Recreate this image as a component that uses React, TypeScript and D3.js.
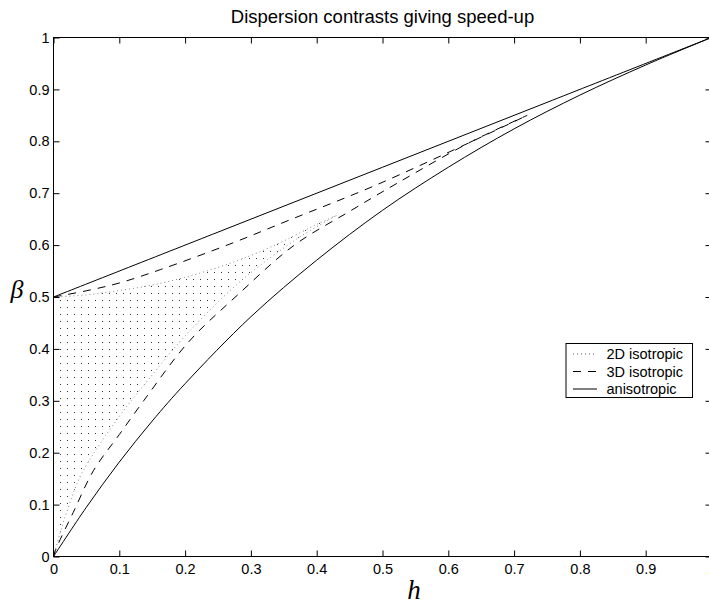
import { useEffect, useRef } from 'react';
import * as d3 from 'd3';

// tick values
const hTicks = [0, 0.1, 0.2, 0.3, 0.4, 0.5, 0.6, 0.7, 0.8, 0.9, 1];
const betaTicks = [0, 0.1, 0.2, 0.3, 0.4, 0.5, 0.6, 0.7, 0.8, 0.9, 1];

// anisotropic bounds (solid)
const anisoUpperH = [0, 0.25, 0.5, 0.75, 1];
const anisoUpperB = [0.5, 0.625, 0.75, 0.875, 1];
const anisoLowerH = [0, 0.05, 0.1, 0.15, 0.2, 0.3, 0.4, 0.5, 0.6, 0.7, 0.8, 0.9, 1];
const anisoLowerB = [0, 0.095, 0.182, 0.261, 0.333, 0.462, 0.571, 0.667, 0.75, 0.824, 0.889, 0.947, 1];

// 3D isotropic bounds (dashed)
const iso3DUpperH = [0, 0.05, 0.1, 0.163, 0.268, 0.36, 0.489, 0.633, 0.72];
const iso3DUpperB = [0.5, 0.512, 0.527, 0.553, 0.602, 0.649, 0.715, 0.798, 0.85];
const iso3DLowerH = [0, 0.005, 0.03, 0.061, 0.1, 0.137, 0.205, 0.279, 0.365, 0.45, 0.522, 0.633, 0.72];
const iso3DLowerB = [0, 0.018, 0.085, 0.166, 0.235, 0.3, 0.413, 0.503, 0.599, 0.665, 0.719, 0.798, 0.85];

// 2D isotropic region (dotted)
const iso2DUpperH = [0, 0.05, 0.1, 0.15, 0.2, 0.25, 0.3, 0.35, 0.4, 0.43];
const iso2DUpperB = [0.5, 0.504, 0.5125, 0.523, 0.538, 0.557, 0.58, 0.608, 0.64, 0.657];
const iso2DLowerH = [0, 0.01, 0.02, 0.043, 0.1, 0.147, 0.2, 0.284, 0.37, 0.43];
const iso2DLowerB = [0, 0.045, 0.085, 0.16, 0.27, 0.345, 0.425, 0.53, 0.612, 0.657];

const legendLabels = ['2D isotropic', '3D isotropic', 'anisotropic'];

const FONT = '"Liberation Sans", Arial, Helvetica, sans-serif';

const App = () => {
  const ref = useRef<SVGSVGElement>(null);

  useEffect(() => {
    const width = 709;
    const height = 604;
    const x = d3.scaleLinear().domain([0, 1]).range([53.5, 711.5]);
    const y = d3.scaleLinear().domain([0, 1]).range([556.5, 37.5]);

    const svg = d3.select(ref.current);
    svg.selectAll('*').remove();
    svg.attr('width', width).attr('height', height);

    svg.append('rect').attr('width', width).attr('height', height).attr('fill', '#fff');

    const defs = svg.append('defs');
    // dot texture for the 2D family of dotted curves
    const pat = defs.append('pattern')
      .attr('id', 'dots')
      .attr('patternUnits', 'userSpaceOnUse')
      .attr('width', 7)
      .attr('height', 7)
      .attr('x', 60)
      .attr('y', 300);
    pat.append('rect').attr('width', 1).attr('height', 1).attr('fill', '#333');

    defs.append('clipPath').attr('id', 'plotclip')
      .append('rect')
      .attr('x', x(0)).attr('y', y(1))
      .attr('width', x(1) - x(0)).attr('height', y(0) - y(1));

    const pts = (hs: number[], bs: number[]) => hs.map((h, i) => [h, bs[i]] as [number, number]);
    const line = d3.line<[number, number]>()
      .x(d => x(d[0]))
      .y(d => y(d[1]))
      .curve(d3.curveCatmullRom.alpha(0.5));

    const plot = svg.append('g').attr('clip-path', 'url(#plotclip)');

    // 2D isotropic: dotted region
    const up2 = pts(iso2DUpperH, iso2DUpperB);
    const lo2 = pts(iso2DLowerH, iso2DLowerB);
    const regionPath = line(up2) + 'L' + (line([...lo2].reverse()) as string).slice(1) + 'Z';
    plot.append('path')
      .attr('d', regionPath)
      .attr('fill', 'url(#dots)')
      .attr('stroke', 'none');
    [up2, lo2].forEach(p => {
      plot.append('path')
        .attr('d', line(p))
        .attr('fill', 'none')
        .attr('stroke', '#888')
        .attr('stroke-width', 1)
        .attr('stroke-dasharray', '1,3');
    });

    // 3D isotropic: dashed
    [pts(iso3DUpperH, iso3DUpperB), pts(iso3DLowerH, iso3DLowerB)].forEach(p => {
      plot.append('path')
        .attr('d', line(p))
        .attr('fill', 'none')
        .attr('stroke', '#000')
        .attr('stroke-width', 1)
        .attr('stroke-dasharray', '8,7');
    });

    // anisotropic: solid
    [pts(anisoUpperH, anisoUpperB), pts(anisoLowerH, anisoLowerB)].forEach(p => {
      plot.append('path')
        .attr('d', line(p))
        .attr('fill', 'none')
        .attr('stroke', '#000')
        .attr('stroke-width', 1);
    });

    // axes, MATLAB style ticks pointing inward
    const styleAxis = (g: d3.Selection<SVGGElement, unknown, null, undefined>) => {
      g.select('.domain').remove();
      g.selectAll('line').attr('stroke', '#000');
      g.selectAll('text').attr('fill', '#000').style('font-family', FONT).style('font-size', '14.5px');
    };

    svg.append('g')
      .attr('transform', `translate(0,${y(0)})`)
      .call(d3.axisBottom(x).tickValues(hTicks).tickFormat(d3.format('')).tickSizeInner(-6).tickSizeOuter(0).tickPadding(7.5))
      .call(styleAxis);
    svg.append('g')
      .attr('transform', `translate(0,${y(1)})`)
      .call(d3.axisTop(x).tickValues(hTicks).tickFormat(() => '').tickSizeInner(-6).tickSizeOuter(0))
      .call(styleAxis);
    svg.append('g')
      .attr('transform', `translate(${x(0)},0)`)
      .call(d3.axisLeft(y).tickValues(betaTicks).tickFormat(d3.format('')).tickSizeInner(-6).tickSizeOuter(0).tickPadding(4))
      .call(styleAxis);
    svg.append('g')
      .attr('transform', `translate(${x(1)},0)`)
      .call(d3.axisRight(y).tickValues(betaTicks).tickFormat(() => '').tickSizeInner(-6).tickSizeOuter(0))
      .call(styleAxis);

    svg.append('rect')
      .attr('x', x(0)).attr('y', y(1))
      .attr('width', x(1) - x(0)).attr('height', y(0) - y(1))
      .attr('fill', 'none')
      .attr('stroke', '#000')
      .attr('stroke-width', 1);

    // title and axis labels
    svg.append('text')
      .attr('x', (x(0) + x(1)) / 2)
      .attr('y', 22.5)
      .attr('text-anchor', 'middle')
      .style('font-family', FONT)
      .style('font-size', '18.5px')
      .text('Dispersion contrasts giving speed-up');

    svg.append('text')
      .attr('x', 414)
      .attr('y', 599)
      .attr('text-anchor', 'middle')
      .style('font-family', '"Liberation Serif", "Times New Roman", serif')
      .style('font-style', 'italic')
      .style('font-size', '27px')
      .text('h');

    svg.append('text')
      .attr('x', 17)
      .attr('y', 298)
      .attr('text-anchor', 'middle')
      .style('font-family', '"Liberation Serif", "Times New Roman", serif')
      .style('font-style', 'italic')
      .style('font-size', '26px')
      .text('β');

    // legend
    const lg = svg.append('g').attr('transform', 'translate(566,343.5)');
    lg.append('rect')
      .attr('width', 126.5).attr('height', 54)
      .attr('fill', '#fff').attr('stroke', '#000').attr('stroke-width', 1);
    const dashes = ['1,3', '8,7', null];
    legendLabels.forEach((label, i) => {
      const cy = 10.5 + i * 17.5;
      const l = lg.append('line')
        .attr('x1', 7).attr('x2', 31)
        .attr('y1', cy).attr('y2', cy)
        .attr('stroke', i === 0 ? '#555' : '#000')
        .attr('stroke-width', 1);
      if (dashes[i]) l.attr('stroke-dasharray', dashes[i] as string);
      lg.append('text')
        .attr('x', 40.5).attr('y', cy)
        .attr('dy', '0.35em')
        .style('font-family', FONT)
        .style('font-size', '14.5px')
        .text(label);
    });
  }, []);

  return (
    <svg ref={ref} style={{ position: 'absolute', left: 0, top: 0, display: 'block' }} />
  );
};

export default App;
